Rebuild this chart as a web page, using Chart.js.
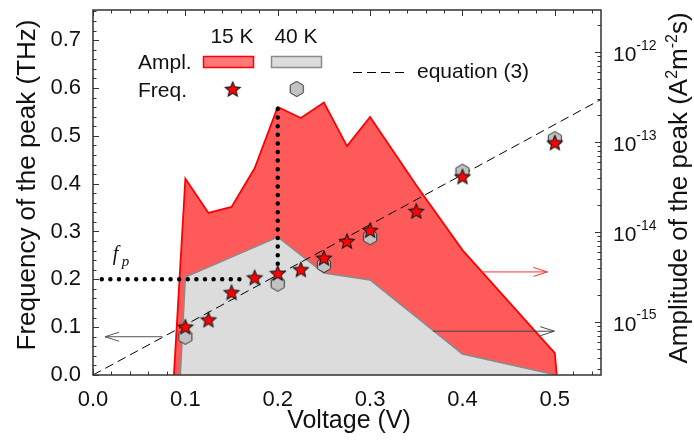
<!DOCTYPE html>
<html>
<head>
<meta charset="utf-8">
<script src="https://cdn.jsdelivr.net/npm/chart.js@4.4.1/dist/chart.umd.min.js"></script>
<style>
  html, body { margin: 0; padding: 0; background: #fff; }
  canvas { display: block; }
</style>
</head>
<body>
<canvas id="chart" width="694" height="445"></canvas>
<script>
// ---- measured data ----
// Peak frequency (THz) versus bias voltage (V)
const volt15K = [0.1, 0.125, 0.15, 0.175, 0.2, 0.225, 0.25, 0.275, 0.3, 0.35, 0.4, 0.5];
const freq15K = [0.101, 0.116, 0.173, 0.204, 0.213, 0.221, 0.245, 0.280, 0.303, 0.343, 0.415, 0.486];
const volt40K = [0.1, 0.2, 0.25, 0.3, 0.4, 0.5];
const freq40K = [0.080, 0.191, 0.230, 0.288, 0.425, 0.493];

// Peak amplitude (A^2 m^-2 s) envelopes, falling off the axis at both ends
const amplVolt15K = [0.087, 0.1, 0.125, 0.15, 0.175, 0.2, 0.225, 0.25, 0.275, 0.3, 0.35, 0.4, 0.5, 0.503];
const ampl15K = [2.0e-16, 3.9e-14, 1.63e-14, 1.9e-14, 5.1e-14, 2.45e-13, 1.85e-13, 2.75e-13, 9.0e-14, 1.9e-13, 3.3e-14, 6.3e-15, 4.5e-16, 2.0e-16];
const amplVolt40K = [0.094, 0.1, 0.2, 0.25, 0.3, 0.4, 0.5];
const ampl40K = [2.0e-16, 3.16e-15, 8.8e-15, 3.5e-15, 2.93e-15, 4.4e-16, 2.6e-16];

// equation (3): straight line through the origin
const eqVolt = [0, 0.55];
const eqFreq = [0, 0.576];

// dotted guides marking f_p at the amplitude maximum
const fpGuideVolt = [0.0095, 0.159];
const fpGuideFreq = [0.2, 0.2];
const peakGuideVolt = [0.2, 0.2];
const peakGuideFreq = [0.556, 0.232];
const fpLabelAt = [0.0215, 0.24];

// arrows pointing each curve to its axis: [from V, to V, level]
const arrowFreq = [0.075, 0.013, 0.08];
const arrowAmpl15K = [0.42, 0.492, 3.6e-15];
const arrowAmpl40K = [0.368, 0.4995, 7.9e-16];

// axes
const voltRange = [0, 0.55];
const freqRange = [0, 0.763];
const amplRange = [Math.pow(10, -15.589), Math.pow(10, -11.533)];
const voltTicks = [0, 0.1, 0.2, 0.3, 0.4, 0.5];
const freqTicks = [0, 0.1, 0.2, 0.3, 0.4, 0.5, 0.6, 0.7];
const amplTickExponents = [-12, -13, -14, -15];

const SANS = '"Liberation Sans", Arial, Helvetica, sans-serif';
const SERIF = '"Liberation Serif", "Times New Roman", serif';

const pts = (xs, ys) => xs.map((v, i) => ({ x: v, y: ys[i] }));

// marker glyphs
function makeStar(r, fill, stroke) {
  const s = Math.ceil(r * 2 + 4);
  const c = document.createElement('canvas');
  c.width = s; c.height = s;
  const g = c.getContext('2d');
  g.translate(s / 2, s / 2 + r * 0.1);
  g.beginPath();
  for (let i = 0; i < 10; i++) {
    const rad = i % 2 ? r * 0.46 : r;
    const a = -Math.PI / 2 + i * Math.PI / 5;
    g.lineTo(rad * Math.cos(a), rad * Math.sin(a));
  }
  g.closePath();
  g.fillStyle = fill; g.fill();
  g.lineWidth = 1.1; g.strokeStyle = stroke; g.lineJoin = 'miter'; g.stroke();
  return c;
}
function makeHex(r, fill, stroke) {
  const s = Math.ceil(r * 2 + 4);
  const c = document.createElement('canvas');
  c.width = s; c.height = s;
  const g = c.getContext('2d');
  g.translate(s / 2, s / 2);
  g.beginPath();
  for (let i = 0; i < 6; i++) {
    const a = -Math.PI / 2 + i * Math.PI / 3;
    g.lineTo(r * Math.cos(a), r * Math.sin(a));
  }
  g.closePath();
  g.fillStyle = fill; g.fill();
  g.lineWidth = 1; g.strokeStyle = stroke; g.stroke();
  return c;
}
const starImg = makeStar(7.8, '#ff0000', '#1a1a1a');
const hexImg = makeHex(7.6, '#c2c2c2', '#333333');

// text with raised (superscript) runs
function drawRuns(ctx, runs, x, y, align) {
  let total = 0;
  runs.forEach(r => { ctx.font = r.size + 'px ' + SANS; r.w = ctx.measureText(r.t).width; total += r.w; });
  let cx = align === 'center' ? x - total / 2 : x;
  ctx.textAlign = 'left';
  ctx.textBaseline = 'alphabetic';
  runs.forEach(r => {
    ctx.font = r.size + 'px ' + SANS;
    ctx.fillText(r.t, cx, y - (r.rise || 0));
    cx += r.w;
  });
}

function drawArrow(ctx, x0, x1, y, color) {
  ctx.save();
  ctx.strokeStyle = color;
  ctx.lineWidth = 1;
  ctx.beginPath();
  ctx.moveTo(x0, y); ctx.lineTo(x1, y);
  const d = Math.sign(x1 - x0);
  ctx.moveTo(x1 - d * 14, y - 4.5); ctx.lineTo(x1, y); ctx.lineTo(x1 - d * 14, y + 4.5);
  ctx.stroke();
  ctx.restore();
}

// keep the plot area fixed: no extra room reserved for edge labels
function fixWidth(w) {
  return s => { s.width = w; s.paddingTop = 0; s.paddingBottom = 0; };
}

const decor = {
  id: 'decor',
  beforeDatasetsDraw(chart) {
    const { ctx, chartArea: a, scales } = chart;
    const sx = scales.x, yl = scales.yL, yr = scales.yR;
    ctx.save();
    ctx.strokeStyle = '#333';
    ctx.lineWidth = 1;
    ctx.beginPath();
    // voltage ticks, bottom and top, inward
    for (let k = 0; k <= 27; k++) {
      const v = k * 0.02;
      if (v > voltRange[1]) break;
      const major = voltTicks.some(t => Math.abs(t - v) < 1e-6);
      const len = major ? 6 : 3.5;
      const px = Math.round(sx.getPixelForValue(v)) + 0.5;
      ctx.moveTo(px, a.bottom); ctx.lineTo(px, a.bottom - len);
      ctx.moveTo(px, a.top); ctx.lineTo(px, a.top + len);
    }
    // frequency ticks, left side
    for (let k = 0; k <= 38; k++) {
      const v = k * 0.02;
      if (v > freqRange[1]) break;
      const major = freqTicks.some(t => Math.abs(t - v) < 1e-6);
      const len = major ? 6 : 3.5;
      const py = Math.round(yl.getPixelForValue(v)) + 0.5;
      ctx.moveTo(a.left, py); ctx.lineTo(a.left + len, py);
    }
    // amplitude ticks, right side (log decades with 2..9 subdivisions)
    for (let e = -16; e <= -12; e++) {
      for (let m = 1; m <= 9; m++) {
        const v = m * Math.pow(10, e);
        if (v < amplRange[0] || v > amplRange[1]) continue;
        const len = m === 1 ? 6 : 3.5;
        const py = Math.round(yr.getPixelForValue(v)) + 0.5;
        ctx.moveTo(a.right, py); ctx.lineTo(a.right - len, py);
      }
    }
    ctx.stroke();
    ctx.restore();
  },
  afterDatasetsDraw(chart) {
    const { ctx, scales } = chart;
    const sx = scales.x, yl = scales.yL, yr = scales.yR;
    drawArrow(ctx, sx.getPixelForValue(arrowFreq[0]), sx.getPixelForValue(arrowFreq[1]), yl.getPixelForValue(arrowFreq[2]), '#555');
    drawArrow(ctx, sx.getPixelForValue(arrowAmpl15K[0]), sx.getPixelForValue(arrowAmpl15K[1]), yr.getPixelForValue(arrowAmpl15K[2]), '#ff3030');
    drawArrow(ctx, sx.getPixelForValue(arrowAmpl40K[0]), sx.getPixelForValue(arrowAmpl40K[1]), yr.getPixelForValue(arrowAmpl40K[2]), '#444');

    // f_p label
    const fx = sx.getPixelForValue(fpLabelAt[0]);
    const fy = yl.getPixelForValue(fpLabelAt[1]);
    ctx.save();
    ctx.fillStyle = '#111';
    ctx.textAlign = 'left';
    ctx.textBaseline = 'alphabetic';
    ctx.font = 'italic 20px ' + SERIF;
    ctx.fillText('f', fx, fy);
    ctx.font = 'italic 15px ' + SERIF;
    ctx.fillText('p', fx + 9, fy + 5.5);
    ctx.restore();
  },
  afterDraw(chart) {
    const { ctx, chartArea: a, scales } = chart;
    const yr = scales.yR;
    ctx.save();
    // frame
    ctx.strokeStyle = '#333';
    ctx.lineWidth = 1.5;
    ctx.strokeRect(a.left, a.top, a.right - a.left, a.bottom - a.top);

    ctx.fillStyle = '#111';
    // right axis labels 10^n
    amplTickExponents.forEach(e => {
      const py = yr.getPixelForValue(Math.pow(10, e));
      drawRuns(ctx, [{ t: '10', size: 21 }, { t: String(e), size: 14, rise: 11.5 }], a.right + 12, py + 9, 'left');
    });

    // axis titles
    ctx.font = '25px ' + SANS;
    ctx.textAlign = 'center';
    ctx.textBaseline = 'alphabetic';
    ctx.fillText('Voltage (V)', (a.left + a.right) / 2 + 2, 428);

    ctx.save();
    ctx.translate(35, 185);
    ctx.rotate(-Math.PI / 2);
    ctx.font = '26px ' + SANS;
    ctx.textAlign = 'center';
    ctx.fillText('Frequency of the peak (THz)', 0, 0);
    ctx.restore();

    ctx.save();
    ctx.translate(687, 188);
    ctx.rotate(-Math.PI / 2);
    drawRuns(ctx, [
      { t: 'Amplitude of the peak (A', size: 26 },
      { t: '2', size: 16, rise: 10 },
      { t: 'm', size: 26 },
      { t: '-2', size: 16, rise: 10 },
      { t: 's)', size: 26 }
    ], 0, 0, 'center');
    ctx.restore();

    // legend
    ctx.font = '21px ' + SANS;
    ctx.textAlign = 'center';
    ctx.fillText('15 K', 232, 43);
    ctx.fillText('40 K', 296, 43);
    ctx.textAlign = 'left';
    ctx.fillText('Ampl.', 138, 68.5);
    ctx.fillText('Freq.', 138, 97);
    ctx.fillText('equation (3)', 417, 78);

    ctx.lineWidth = 1.5;
    ctx.fillStyle = '#ff7878';
    ctx.strokeStyle = '#ff0000';
    ctx.fillRect(203.5, 56.5, 50, 11);
    ctx.strokeRect(203.5, 56.5, 50, 11);
    ctx.fillStyle = '#dcdcdc';
    ctx.strokeStyle = '#8a8a8a';
    ctx.fillRect(271.5, 56.5, 50, 11);
    ctx.strokeRect(271.5, 56.5, 50, 11);

    ctx.drawImage(starImg, 232.7 - starImg.width / 2, 89 - starImg.height / 2);
    ctx.drawImage(hexImg, 296.7 - hexImg.width / 2, 89 - hexImg.height / 2);

    ctx.strokeStyle = '#000';
    ctx.lineWidth = 1;
    ctx.setLineDash([9, 5]);
    ctx.beginPath();
    ctx.moveTo(353, 72.5); ctx.lineTo(405, 72.5);
    ctx.stroke();
    ctx.restore();
  }
};

const tickFont = { family: SANS, size: 22 };

new Chart(document.getElementById('chart').getContext('2d'), {
  type: 'line',
  data: {
    datasets: [
      {
        label: 'Ampl. 15 K', data: pts(amplVolt15K, ampl15K), yAxisID: 'yR',
        borderColor: '#ff0000', backgroundColor: '#ff5a5a', borderWidth: 1.8,
        fill: 'start', pointRadius: 0, tension: 0, clip: 0, order: 6
      },
      {
        label: 'Ampl. 40 K', data: pts(amplVolt40K, ampl40K), yAxisID: 'yR',
        borderColor: '#8a8a8a', backgroundColor: '#dcdcdc', borderWidth: 1.5,
        fill: 'start', pointRadius: 0, tension: 0, clip: 0, order: 5
      },
      {
        label: 'equation (3)', data: pts(eqVolt, eqFreq), yAxisID: 'yL',
        borderColor: '#000', borderWidth: 1, borderDash: [9, 5],
        fill: false, pointRadius: 0, clip: 0, order: 4
      },
      {
        label: 'f_p guide', data: pts(fpGuideVolt, fpGuideFreq), yAxisID: 'yL',
        borderColor: '#000', borderWidth: 4.5, borderDash: [0, 8.6], borderCapStyle: 'round',
        fill: false, pointRadius: 0, order: 3
      },
      {
        label: 'peak guide', data: pts(peakGuideVolt, peakGuideFreq), yAxisID: 'yL',
        borderColor: '#000', borderWidth: 4.5, borderDash: [0, 8.6], borderCapStyle: 'round',
        fill: false, pointRadius: 0, order: 3
      },
      {
        label: 'Freq. 40 K', data: pts(volt40K, freq40K), yAxisID: 'yL',
        showLine: false, pointStyle: hexImg, pointRadius: 7, order: 2
      },
      {
        label: 'Freq. 15 K', data: pts(volt15K, freq15K), yAxisID: 'yL',
        showLine: false, pointStyle: starImg, pointRadius: 7, order: 1
      }
    ]
  },
  options: {
    responsive: false,
    animation: false,
    devicePixelRatio: 1,
    layout: { padding: { top: 10, left: 0, right: 0, bottom: 0 } },
    plugins: { legend: { display: false }, tooltip: { enabled: false } },
    scales: {
      x: {
        type: 'linear', min: voltRange[0], max: voltRange[1], bounds: 'data',
        afterFit: s => { s.height = 70; s.paddingLeft = 0; s.paddingRight = 0; },
        grid: { display: false, drawTicks: false }, border: { display: false },
        ticks: {
          stepSize: 0.1, includeBounds: false, padding: 12, maxRotation: 0, autoSkip: false,
          font: tickFont, color: '#111',
          callback: v => voltTicks.some(t => Math.abs(t - v) < 1e-6) ? v.toFixed(1) : ''
        }
      },
      yL: {
        type: 'linear', position: 'left', min: freqRange[0], max: freqRange[1], bounds: 'data',
        afterFit: fixWidth(93),
        grid: { display: false, drawTicks: false }, border: { display: false },
        ticks: {
          stepSize: 0.1, includeBounds: false, padding: 12, autoSkip: false,
          font: tickFont, color: '#111',
          callback: v => freqTicks.some(t => Math.abs(t - v) < 1e-6) ? v.toFixed(1) : ''
        }
      },
      yR: {
        type: 'logarithmic', position: 'right', min: amplRange[0], max: amplRange[1], bounds: 'data',
        afterFit: fixWidth(93),
        grid: { display: false, drawTicks: false }, border: { display: false },
        ticks: { display: false }
      }
    }
  },
  plugins: [decor]
});
</script>
</body>
</html>
